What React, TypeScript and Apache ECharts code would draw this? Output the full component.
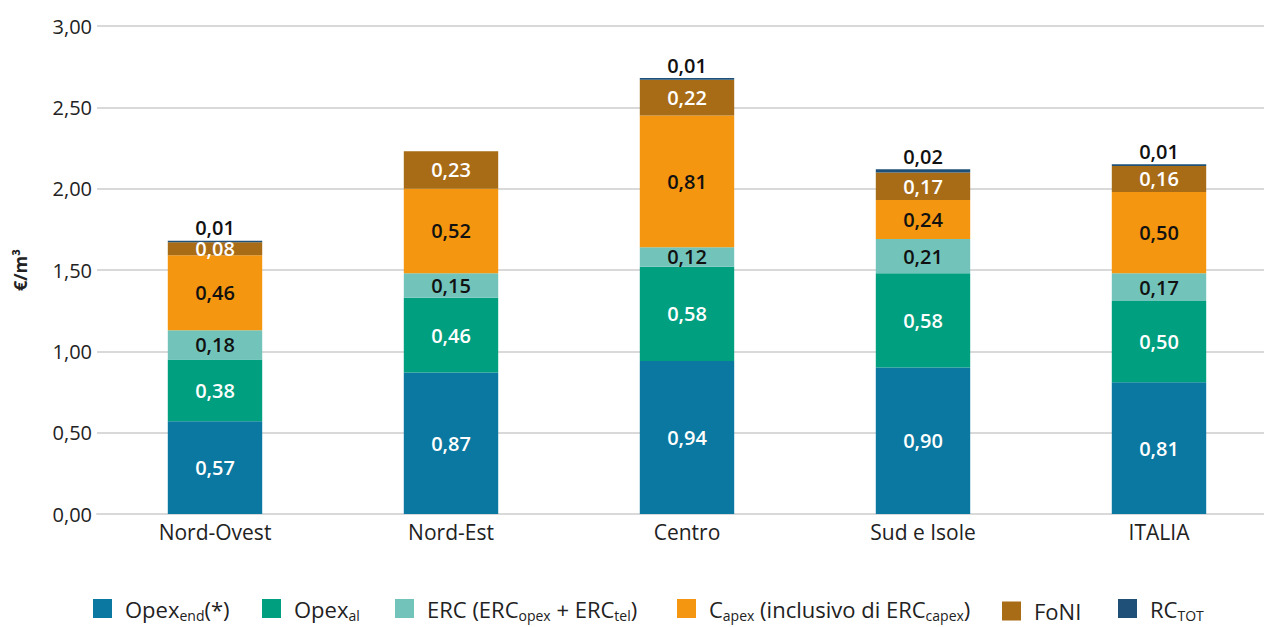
import React, { useEffect, useRef } from "react";
import * as echarts from "echarts";

const categories = ["Nord-Ovest", "Nord-Est", "Centro", "Sud e Isole", "ITALIA"];
const opexEnd = [0.57, 0.87, 0.94, 0.9, 0.81];
const opexAl = [0.38, 0.46, 0.58, 0.58, 0.5];
const erc = [0.18, 0.15, 0.12, 0.21, 0.17];
const capex = [0.46, 0.52, 0.81, 0.24, 0.5];
const foni = [0.08, 0.23, 0.22, 0.17, 0.16];
const rcTot = [0.01, 0, 0.01, 0.02, 0.01];
const yTicks = [0, 0.5, 1, 1.5, 2, 2.5, 3];
const seriesKeys = ["opexEnd", "opexAl", "erc", "capex", "foni", "rc"];
const legendLabels = [
  "Opex{s|end}(*)",
  "Opex{s|al}",
  "ERC (ERC{s|opex} + ERC{s|tel})",
  "C{s|apex} (inclusivo di ERC{s|capex})",
  "FoNI",
  "RC{s|TOT}",
];

const FONT = "'Open Sans', 'Noto Sans', sans-serif";
const fmt = (v: number) => v.toFixed(2).replace(".", ",");

export default function App() {
  const ref = useRef<HTMLDivElement>(null);
  useEffect(() => {
    document.body.style.margin = "0";
    document.body.style.overflow = "hidden";
    const chart = echarts.init(ref.current!, null, { renderer: "svg" });
    const lbl = (color: string, position: any = "inside") => ({
      show: true,
      position,
      color,
      fontSize: 20,
      fontWeight: 600,
      fontFamily: FONT,
      distance: 3,
      formatter: (p: any) => (p.value ? fmt(p.value) : ""),
    });
    const mk = (name: string, data: number[], color: string, labelColor: string, pos?: any) => ({
      name,
      type: "bar",
      stack: "tot",
      data,
      barWidth: "40%",
      itemStyle: { color },
      label: lbl(labelColor, pos),
    });
    const subRich = {
      s: { fontSize: 14, fontFamily: FONT, color: "#222", verticalAlign: "bottom", padding: [13, 0, 0, 0] },
    };
    const legendLefts = [88, 257, 390, 672, 997, 1113];
    const legends = seriesKeys.map((k, i) => ({
      bottom: 0,
      left: legendLefts[i],
      itemWidth: 19,
      itemHeight: 19,
      icon: "rect",
      textStyle: { fontSize: 22, fontFamily: FONT, color: "#222", rich: subRich, padding: [0, 0, 0, 8] },
      formatter: () => legendLabels[i],
      data: [k],
    }));
    chart.setOption({
      animation: false,
      grid: { left: 97, right: 1, top: 26, bottom: 113 },
      legend: legends,
      xAxis: {
        type: "category",
        data: categories,
        axisTick: { show: false },
        axisLine: { lineStyle: { color: "#d9d9d9", width: 2 } },
        axisLabel: { fontSize: 21, fontFamily: FONT, color: "#222", margin: 7 },
      },
      yAxis: {
        type: "value",
        min: 0,
        max: 3,
        interval: 0.5,
        name: "€/m³",
        nameLocation: "middle",
        nameGap: 68,
        nameRotate: 90,
        nameTextStyle: { fontSize: 18, fontWeight: "bold", fontFamily: FONT, color: "#222" },
        axisLabel: {
          fontSize: 20,
          fontFamily: FONT,
          color: "#222",
          margin: 5,
          formatter: (v: number) => (yTicks.includes(v) ? fmt(v) : ""),
        },
        splitLine: { lineStyle: { color: "#d9d9d9", width: 2 } },
      },
      series: [
        mk("opexEnd", opexEnd, "#0a78a0", "#ffffff"),
        mk("opexAl", opexAl, "#009f7f", "#ffffff"),
        mk("erc", erc, "#72c4bb", "#111111"),
        mk("capex", capex, "#f4960f", "#111111"),
        mk("foni", foni, "#a86b16", "#ffffff"),
        mk("rc", rcTot, "#1e5078", "#111111", "top"),
      ],
    });
    return () => chart.dispose();
  }, []);
  return <div ref={ref} style={{ width: 1278, height: 627 }} />;
}
